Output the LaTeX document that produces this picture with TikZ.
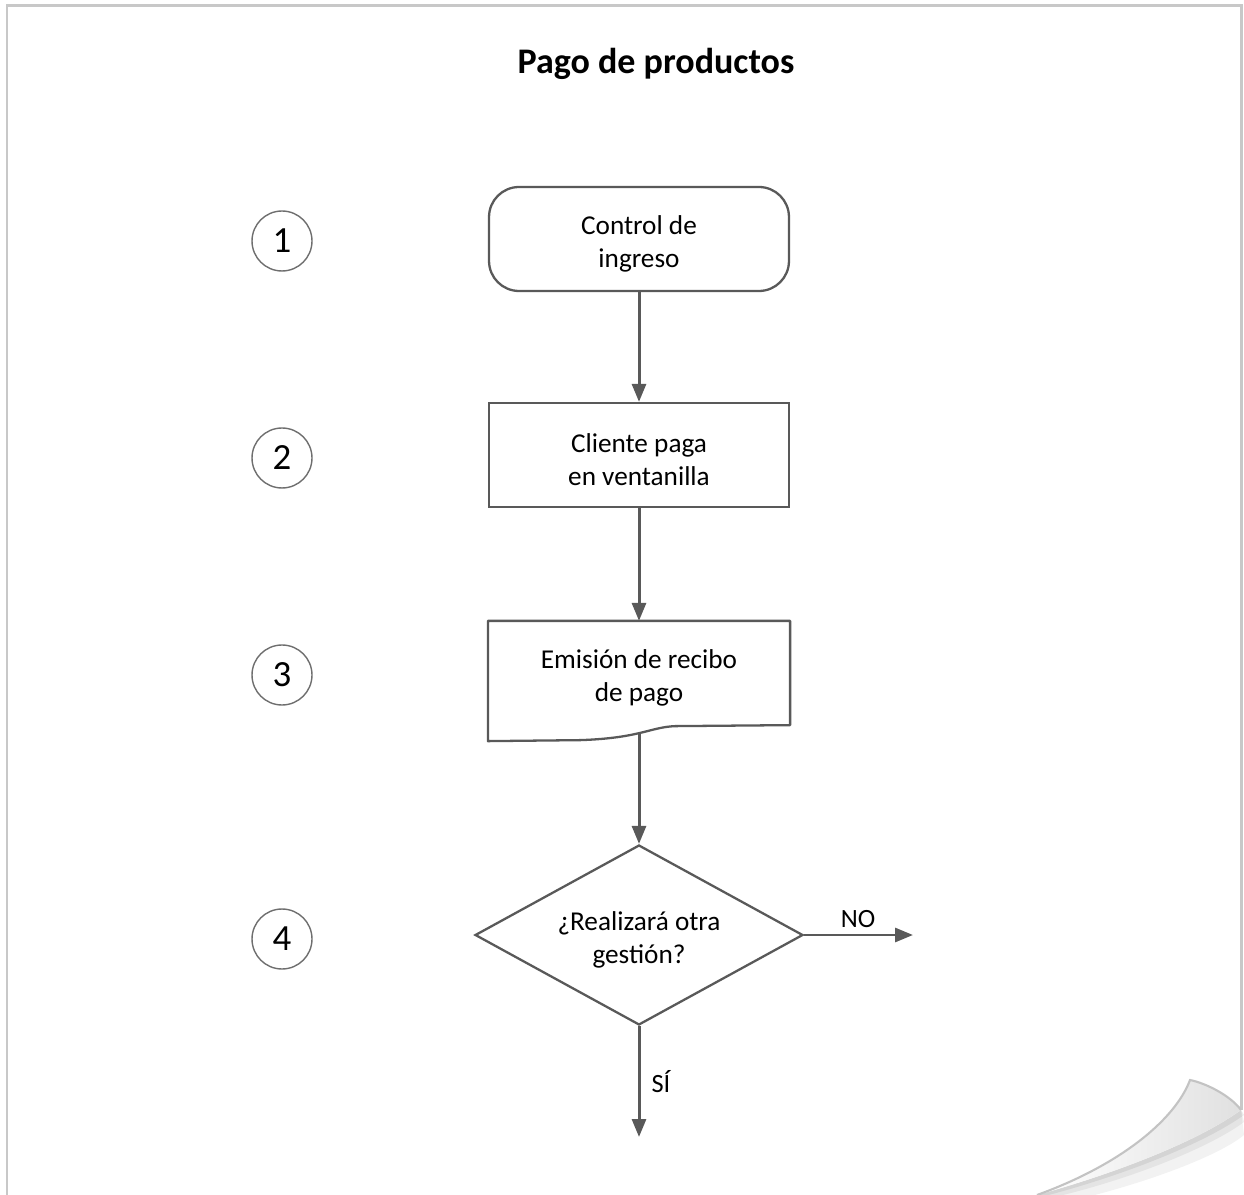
\documentclass[tikz,border=0pt]{standalone}
\usepackage{fontspec}
\setmainfont{Carlito}
\usepackage{xcolor}
\usepackage{tikz}
\usetikzlibrary{positioning, calc, arrows.meta, shapes.geometric}
\definecolor{lineGray}{RGB}{89, 89, 89}
\definecolor{circleGray}{RGB}{110, 110, 110}
\definecolor{pageGray}{RGB}{200, 200, 200}
\definecolor{curlGray}{RGB}{195, 195, 195}
\newcommand{\bajartexto}{\rule{0pt}{16.2pt}}
\tikzset{
    stepnode/.style={
        draw=lineGray, line width=1.3pt, minimum width=6cm, minimum height=2.08cm,
        align=center, fill=white, anchor=center, inner sep=0pt,
        font=\fontsize{15.5}{18.5}\selectfont
    },
    startnode/.style={
        stepnode, rounded corners=0.6cm
    },
    docnode/.style={
        stepnode, draw=none, fill=none, minimum height=2.04cm
    },
    decisionnode/.style={
        diamond, draw=lineGray, line width=1.3pt, minimum width=6.56cm,
        minimum height=3.6cm, inner sep=0pt, aspect=2, align=center,
        font=\fontsize{15.5}{18.5}\selectfont
    },
    numnode/.style={
        circle, draw=circleGray, line width=0.8pt, minimum size=1.2cm, inner sep=0pt,
        font=\fontsize{21}{24}\selectfont
    },
    flow/.style={
        -{Triangle[length=0.36cm, width=0.28cm]}, line width=1.7pt, lineGray
    },
    flowlabel/.style={
        font=\fontsize{15}{18}\selectfont
    },
    pageline/.style={
        draw=pageGray, line width=1.7pt
    }
}

\begin{document}
\begin{tikzpicture}[x=0.02cm, y=-0.02cm]
        \useasboundingbox (0,0) rectangle (1244,1195);

        % ======================================
        % HOJA (borde y esquina doblada)
        % ======================================
        \draw[pageline] (1241,1110) -- (1241,6) -- (7,6) -- (7,1200);

        % sombra bajo la esquina
        \fill[black, opacity=0.05] (1241,1110) .. controls (1200,1140) and (1120,1172) .. (1037,1195)
            -- (1075,1200) .. controls (1150,1182) and (1220,1155) .. (1244,1135) -- cycle;
        \fill[black, opacity=0.06] (1241,1110) .. controls (1200,1140) and (1120,1172) .. (1037,1195)
            -- (1055,1197) .. controls (1135,1178) and (1212,1146) .. (1244,1122) -- cycle;
        \fill[black, opacity=0.07] (1241,1110) .. controls (1200,1140) and (1120,1172) .. (1037,1195)
            -- (1045,1196) .. controls (1125,1175) and (1205,1143) .. (1244,1115) -- cycle;

        % esquina doblada
        \shade[left color=white, right color=black!12]
            (1190,1080) .. controls (1205,1083) and (1230,1095) .. (1241,1110)
            .. controls (1200,1140) and (1120,1172) .. (1037,1195)
            .. controls (1120,1165) and (1175,1120) .. (1190,1080) -- cycle;
        \draw[curlGray, line width=1.2pt]
            (1037,1195) .. controls (1120,1165) and (1175,1120) .. (1190,1080)
            .. controls (1205,1083) and (1230,1095) .. (1241,1110);

        % ======================================
        % TITULO
        % ======================================
        \node[font=\fontsize{20.5}{24}\selectfont\bfseries] (titulo) at (656,64) {Pago de productos};

        % ======================================
        % PASOS DEL DIAGRAMA
        % ======================================
        \node[startnode] (ingreso) at (639,239) {\bajartexto Control de\\ingreso};
        \node[stepnode] (ventanilla) at (639,455) {\bajartexto Cliente paga\\en ventanilla};
        \node[docnode] (recibo) at (639,673) {\bajartexto Emisión de recibo\\de pago};
        \node[decisionnode] (gestion) at (639,935) {\bajartexto ¿Realizará otra\\gestión?};

        % Forma de documento (borde ondulado abajo)
        \draw[draw=lineGray, line width=1.3pt, line join=round]
            ($(recibo.south west)+(0,16)$) -- (recibo.north west) -- (recibo.north east)
            -- (recibo.south east) -- ($(recibo.south east)+(-115,1)$)
            .. controls ($(recibo.south east)+(-140,2)$) and ($(recibo.south east)+(-150,13)$) ..
            ($(recibo.south east)+(-210,15)$) -- cycle;
        \coordinate (reciboFin) at ($(recibo.south)+(0,8)$);

        % Numeros de paso
        \node[numnode] (num1) at (282,241) {1};
        \node[numnode] (num2) at (282,458) {2};
        \node[numnode] (num3) at (282,675) {3};
        \node[numnode] (num4) at (282,939) {4};

        % ======================================
        % CONECTORES
        % ======================================
        \coordinate (salidaNo) at (913,935);
        \coordinate (salidaSi) at (639,1137);

        \draw[flow] (ingreso) -- (ventanilla);
        \draw[flow] (ventanilla) -- (recibo.north);
        \draw[flow] (reciboFin) -- (gestion.north);
        \draw[flow] (gestion.east) -- (salidaNo);
        \draw[flow] (gestion.south) -- (salidaSi);

        \node[flowlabel] (etiquetaNo) at (858,919) {NO};
        \node[flowlabel] (etiquetaSi) at (661,1082) {SÍ};

    \end{tikzpicture}
\end{document}
